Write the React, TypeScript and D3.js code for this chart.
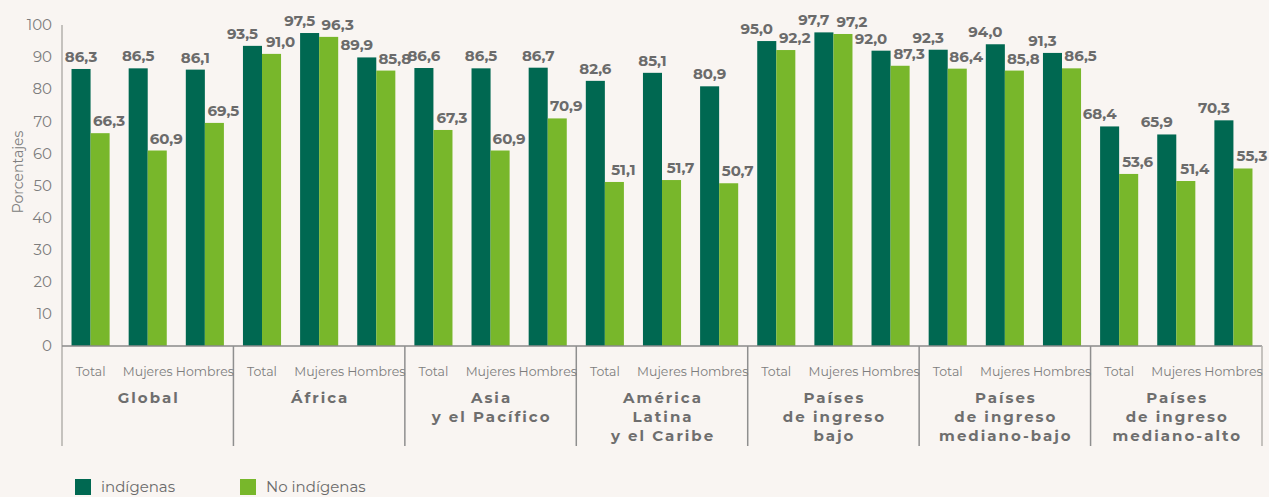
import React from "react";
import * as d3 from "d3";

const groups = [
  ["Global"],
  ["África"],
  ["Asia", "y el Pacífico"],
  ["América", "Latina", "y el Caribe"],
  ["Países", "de ingreso", "bajo"],
  ["Países", "de ingreso", "mediano-bajo"],
  ["Países", "de ingreso", "mediano-alto"],
];
const subcats = ["Total", "Mujeres", "Hombres"];
const series = ["indígenas", "No indígenas"];

// values per group: [Total, Mujeres, Hombres]
const indigenas = [
  [86.3, 86.5, 86.1],
  [93.5, 97.5, 89.9],
  [86.6, 86.5, 86.7],
  [82.6, 85.1, 80.9],
  [95.0, 97.7, 92.0],
  [92.3, 94.0, 91.3],
  [68.4, 65.9, 70.3],
];
const noIndigenas = [
  [66.3, 60.9, 69.5],
  [91.0, 96.3, 85.8],
  [67.3, 60.9, 70.9],
  [51.1, 51.7, 50.7],
  [92.2, 97.2, 87.3],
  [86.4, 85.8, 86.5],
  [53.6, 51.4, 55.3],
];
const yTicks = [0, 10, 20, 30, 40, 50, 60, 70, 80, 90, 100];

const colors = ["#006851", "#78b72b"];
const BG = "#f9f5f2";
const FONT = "Montserrat, 'Open Sans', sans-serif";

const W = 1269;
const H = 497;
const m = { top: 25, left: 62, right: 7, bottom: 151 };

const fmt = (v: number) => v.toFixed(1).replace(".", ",");

export default function App() {
  const x0 = d3
    .scaleBand<number>()
    .domain(d3.range(groups.length))
    .range([m.left, W - m.right])
    .padding(0);
  const x1 = d3.scaleBand<string>().domain(subcats).range([0, x0.bandwidth()]).padding(0);
  const x2 = d3
    .scaleBand<string>()
    .domain(series)
    .range([0, x1.bandwidth()])
    .paddingInner(0)
    .paddingOuter(0.5);
  const y = d3.scaleLinear().domain([0, 100]).range([H - m.bottom, m.top]);
  const y0 = y(0);

  const bars: any[] = [];
  groups.forEach((g, gi) => {
    subcats.forEach((s, si) => {
      const vals = [indigenas[gi][si], noIndigenas[gi][si]];
      // when both bars are close in height, labels are pushed apart
      const close = Math.abs(vals[0] - vals[1]) < 15.5;
      series.forEach((ser, k) => {
        const x = x0(gi)! + x1(s)! + x2(ser)!;
        const off = k === 0 ? (close ? -10 : 0) : 9;
        bars.push({ key: `${gi}-${si}-${k}`, x, v: vals[k], k, off });
      });
    });
  });

  return (
    <div style={{ position: "fixed", inset: 0, background: BG }}>
      <svg width={W} height={H} style={{ display: "block" }} fontFamily={FONT}>
        <rect width={W} height={H} fill={BG} />

        {/* y axis */}
        <line x1={m.left} x2={m.left} y1={m.top} y2={y0 + 100} stroke="#b3b0ad" strokeWidth={1.5} />
        {yTicks.map((t) => (
          <text
            key={t}
            x={m.left - 10}
            y={y(t)}
            dy="0.35em"
            textAnchor="end"
            fontSize={15}
            fill="#7d7d7d"
          >
            {t}
          </text>
        ))}
        <text
          transform={`translate(23,172) rotate(-90)`}
          textAnchor="middle"
          fontSize={14}
          fill="#808080"
        >
          Porcentajes
        </text>

        {/* bars */}
        {bars.map((b) => (
          <rect
            key={b.key}
            x={b.x}
            y={y(b.v)}
            width={x2.bandwidth()}
            height={y0 - y(b.v)}
            fill={colors[b.k]}
          />
        ))}
        {bars.map((b) => (
          <text
            key={"t" + b.key}
            x={b.x + x2.bandwidth() / 2 + b.off}
            y={y(b.v) - 7}
            textAnchor="middle"
            fontSize={15}
            fontWeight={700}
            fill="#6b6b6b"
          >
            {fmt(b.v)}
          </text>
        ))}

        {/* x axis */}
        <line x1={m.left} x2={W - m.right} y1={y0} y2={y0} stroke="#8a8a8a" strokeWidth={1.5} />
        {d3.range(1, groups.length + 1).map((i) => {
          const xx = i === groups.length ? W - m.right : x0(i)!;
          return (
            <line
              key={"sep" + i}
              x1={xx}
              x2={xx}
              y1={y0}
              y2={y0 + 100}
              stroke={i === groups.length ? "#b3b0ad" : "#8f8f8f"}
              strokeWidth={1.5}
            />
          );
        })}
        {groups.map((g, gi) => (
          <g key={"g" + gi}>
            {subcats.map((s) => (
              <text
                key={s}
                x={x0(gi)! + x1(s)! + x1.bandwidth() / 2}
                y={376}
                textAnchor="middle"
                fontSize={12.5}
                fill="#7d7d7d"
              >
                {s}
              </text>
            ))}
            {g.map((line, li) => (
              <text
                key={li}
                x={x0(gi)! + x0.bandwidth() / 2 + 1}
                y={403 + li * 19}
                textAnchor="middle"
                fontSize={15}
                fontWeight={700}
                letterSpacing={2}
                fill="#6e6e6e"
              >
                {line}
              </text>
            ))}
          </g>
        ))}

        {/* legend */}
        {series.map((s, k) => (
          <g key={s} transform={`translate(${75 + k * 165},479)`}>
            <rect width={16} height={16} fill={colors[k]} />
            <text x={26} y={13} fontSize={15} fill="#6b6b6b">
              {s}
            </text>
          </g>
        ))}
      </svg>
    </div>
  );
}
